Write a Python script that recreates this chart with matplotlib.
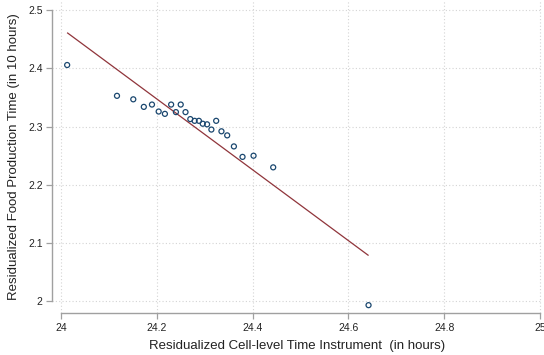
import matplotlib
matplotlib.use("Agg")
from matplotlib import pyplot as plt

# binned scatter: mean food production time per bin of the time instrument
bin_x = [24.013, 24.117, 24.151, 24.173, 24.190, 24.204, 24.217, 24.230, 24.240,
         24.250, 24.260, 24.270, 24.279, 24.288, 24.296, 24.305, 24.314, 24.324,
         24.335, 24.347, 24.361, 24.379, 24.402, 24.443, 24.642]
bin_y = [2.406, 2.353, 2.347, 2.334, 2.338, 2.326, 2.322, 2.338, 2.325,
         2.338, 2.325, 2.313, 2.310, 2.310, 2.305, 2.304, 2.295, 2.310,
         2.292, 2.285, 2.266, 2.248, 2.250, 2.230, 1.993]

# linear fit endpoints
fit_x = [24.014, 24.641]
fit_y = [2.461, 2.079]

x_ticks = [24, 24.2, 24.4, 24.6, 24.8, 25]
x_ticklabels = ["24", "24.2", "24.4", "24.6", "24.8", "25"]
y_ticks = [2, 2.1, 2.2, 2.3, 2.4, 2.5]
y_ticklabels = ["2", "2.1", "2.2", "2.3", "2.4", "2.5"]

plt.rcParams["font.family"] = ["Liberation Sans", "DejaVu Sans"]

W, H = 544, 355
fig = plt.figure(figsize=(W / 100, H / 100), dpi=100)
fig.set_facecolor("white")
ax = fig.add_axes([52.3 / W, 1 - 313.3 / H, (542 - 52.3) / W, 313.3 / H])

ax.plot(fit_x, fit_y, color="#90353b", linewidth=0.9, zorder=2)
ax.scatter(bin_x, bin_y, s=13, facecolors="none", edgecolors="#1a476f",
           linewidths=0.9, zorder=3)

ax.set_xlim(23.982, 25.004)
ax.set_ylim(1.979, 2.5178)

ax.set_xticks(x_ticks)
ax.set_xticklabels(x_ticklabels)
ax.set_yticks(y_ticks)
ax.set_yticklabels(y_ticklabels)

for side in ["top", "right"]:
    ax.spines[side].set_visible(False)
ax.spines["left"].set_bounds(2, 2.5)
ax.spines["bottom"].set_bounds(24, 25)
for side in ["left", "bottom"]:
    ax.spines[side].set_color("#a0a0a0")
    ax.spines[side].set_linewidth(1.0)

ax.tick_params(axis="both", direction="out", length=4.5, width=0.9,
               color="#a0a0a0", labelsize=7.5, labelcolor="#222222", pad=2.5)

ax.grid(True, linestyle=(0, (1, 2)), color="#d4d4d4", linewidth=0.8)
ax.set_axisbelow(True)

ax.set_xlabel("Residualized Cell-level Time Instrument  (in hours)",
              fontsize=9.5, color="#222222", labelpad=5)
ax.set_ylabel("Residualized Food Production Time (in 10 hours)",
              fontsize=9.5, color="#222222", labelpad=6)

fig.savefig("out.png", dpi=100, facecolor="white")
